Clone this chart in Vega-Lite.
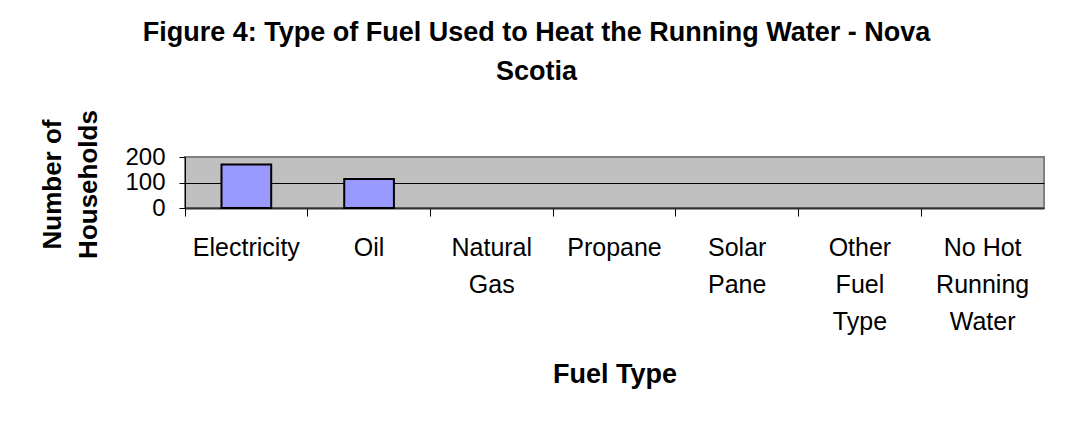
{
  "$schema": "https://vega.github.io/schema/vega-lite/v6.json",
  "autosize": {"type": "none"},
  "width": 859,
  "height": 51,
  "padding": {"left": 185, "top": 157, "right": 21, "bottom": 219},
  "background": "white",
  "title": {
    "text": ["Figure 4: Type of Fuel Used to Heat the Running Water - Nova", "Scotia"],
    "font": "Liberation Sans",
    "fontSize": 27,
    "fontWeight": "bold",
    "color": "black",
    "lineHeight": 39,
    "anchor": "middle",
    "dx": -78,
    "offset": 24
  },
  "data": {
    "values": [
      {"fuel": "Electricity", "households": 171},
      {"fuel": "Oil", "households": 114},
      {"fuel": "Natural Gas", "households": 0},
      {"fuel": "Propane", "households": 0},
      {"fuel": "Solar Pane", "households": 0},
      {"fuel": "Other Fuel Type", "households": 0},
      {"fuel": "No Hot Running Water", "households": 0}
    ]
  },
  "mark": {"type": "bar", "fill": "#9999FF", "stroke": "black", "width": {"band": 0.405}},
  "encoding": {
    "strokeWidth": {"condition": {"test": "datum.households == 0", "value": 0}, "value": 2},
    "x": {
      "field": "fuel",
      "type": "nominal",
      "sort": null,
      "scale": {"paddingInner": 0, "paddingOuter": 0},
      "axis": {
        "title": "Fuel Type",
        "titleFont": "Liberation Sans",
        "titleFontSize": 27,
        "titleFontWeight": "bold",
        "titleColor": "black",
        "titleY": 174,
        "titleBaseline": "alphabetic",
        "labelAngle": 0,
        "labelFont": "Liberation Sans",
        "labelFontSize": 25,
        "labelColor": "black",
        "labelBaseline": "alphabetic",
        "labelPadding": 39,
        "labelLineHeight": 37,
        "labelExpr": "datum.label == 'No Hot Running Water' ? ['No Hot', 'Running', 'Water'] : split(datum.label, ' ')",
        "bandPosition": 0,
        "tickSize": 8,
        "tickColor": "black",
        "tickWidth": 1,
        "domainColor": "#303030",
        "domainWidth": 2,
        "labelOverlap": false
      }
    },
    "y": {
      "field": "households",
      "type": "quantitative",
      "scale": {"domain": [0, 200], "nice": false},
      "axis": {
        "values": [0, 100, 200],
        "title": ["Number of", "Households"],
        "titleFont": "Liberation Sans",
        "titleFontSize": 26,
        "titleFontWeight": "bold",
        "titleColor": "black",
        "titleAngle": -90,
        "titleX": -133,
        "titleY": 27,
        "titleAlign": "center",
        "titleBaseline": "middle",
        "titleLineHeight": 36,
        "labelFont": "Liberation Sans",
        "labelFontSize": 24,
        "labelColor": "black",
        "labelPadding": 14,
        "labelOverlap": false,
        "labelFlush": false,
        "tickSize": 6,
        "tickColor": "black",
        "domainColor": "black",
        "grid": true,
        "gridColor": {"condition": {"test": "datum.value == 100", "value": "black"}, "value": "transparent"},
        "gridWidth": 1
      }
    }
  },
  "config": {
    "view": {"fill": "#C0C0C0", "stroke": "#808080", "strokeWidth": 2}
  }
}
